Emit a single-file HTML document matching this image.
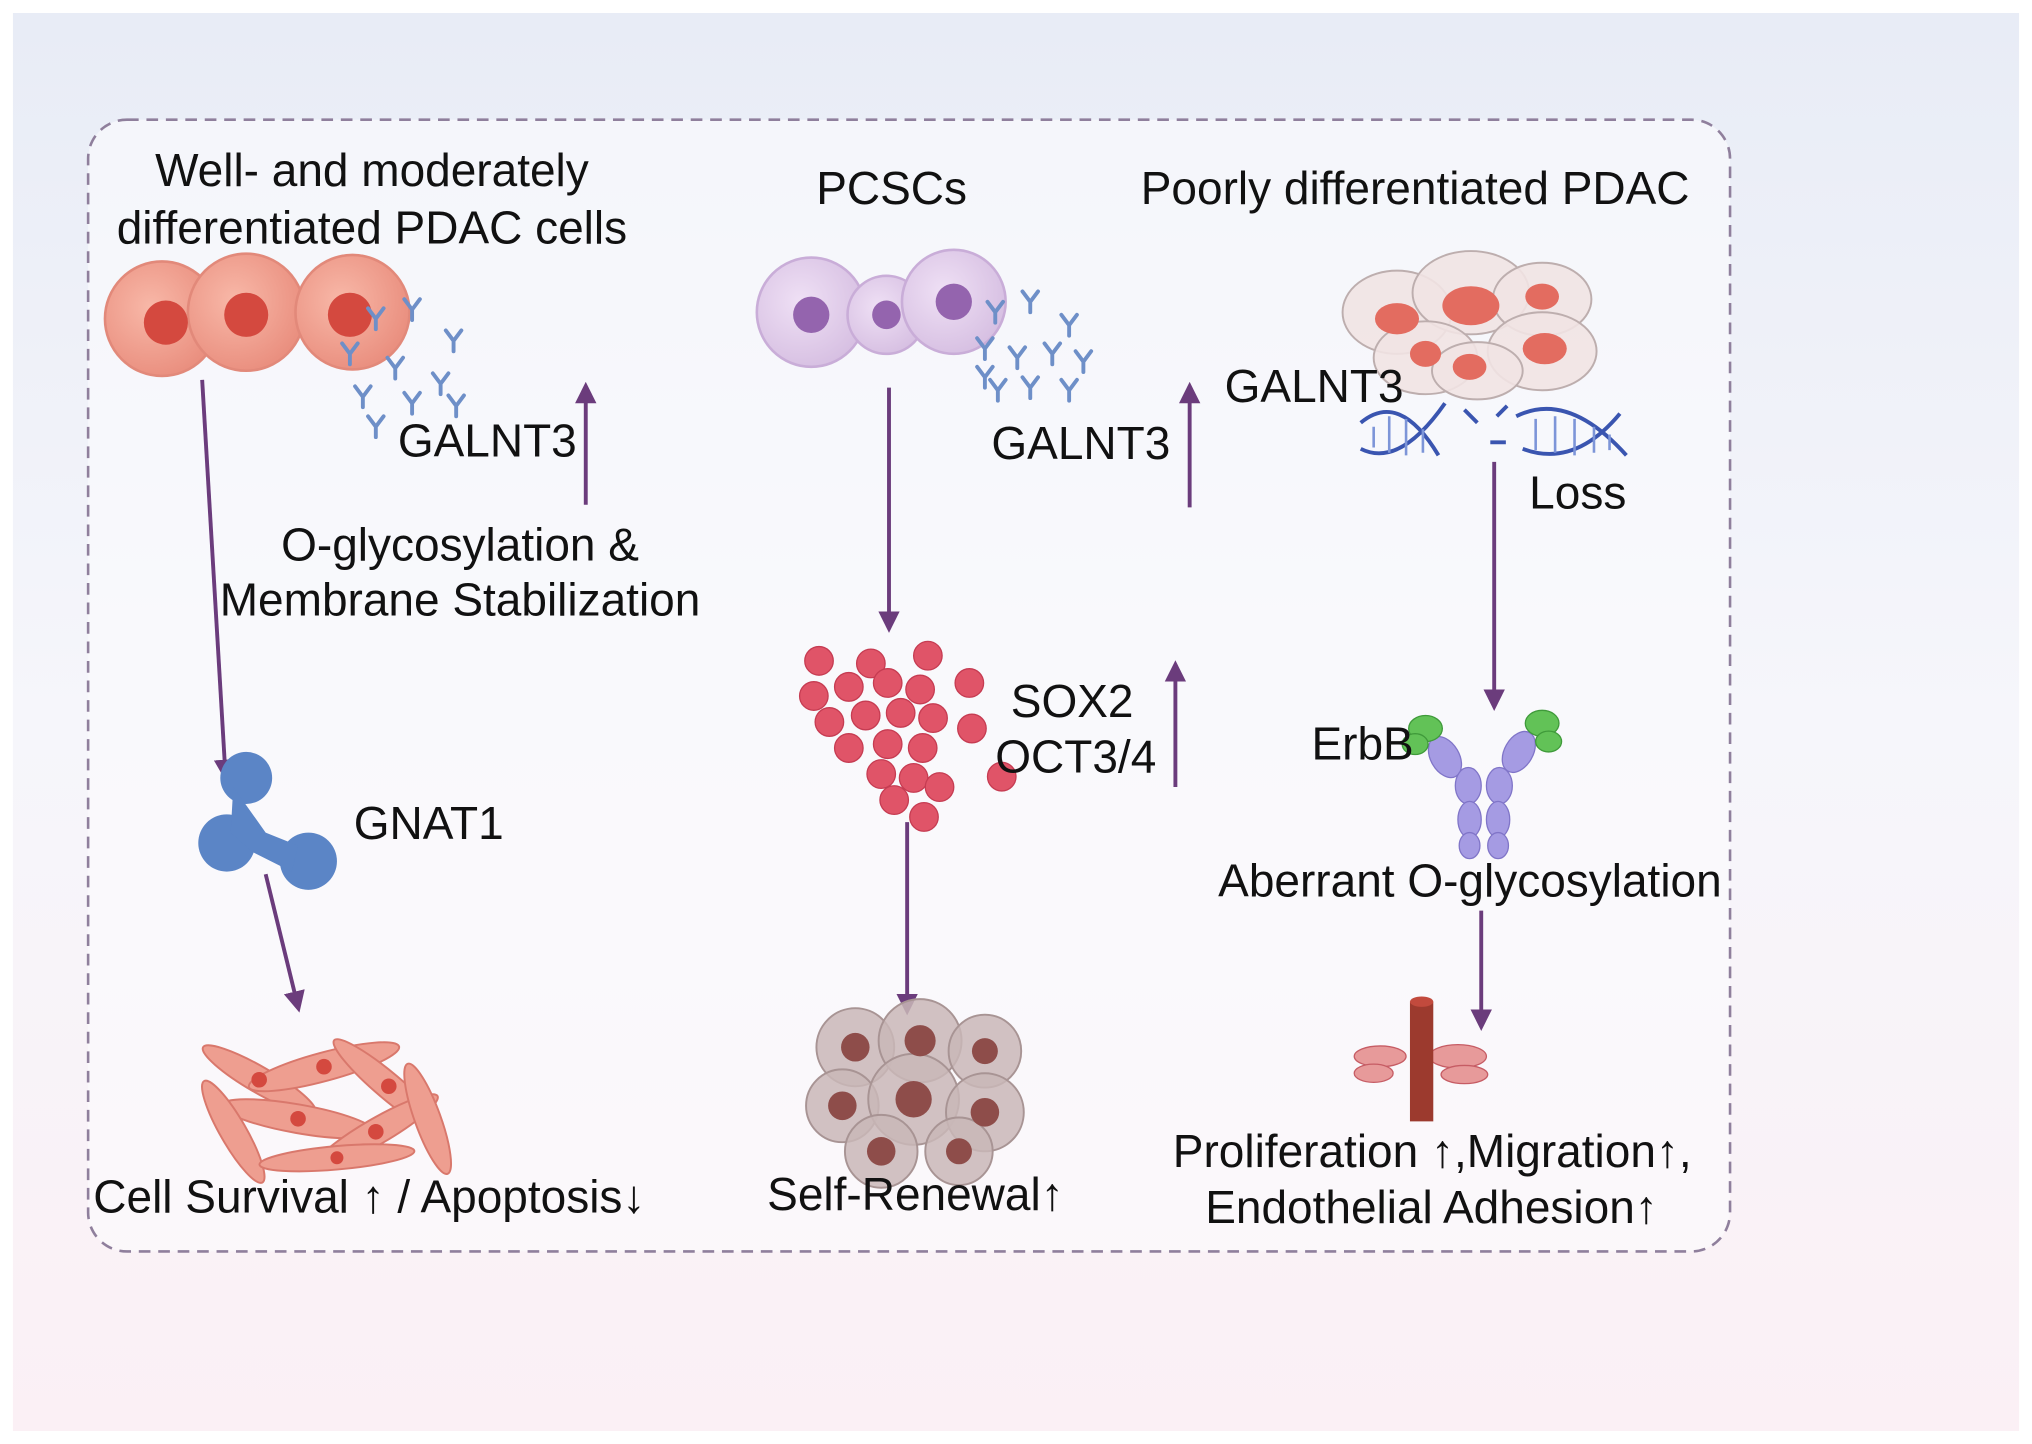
<!DOCTYPE html>
<html><head><meta charset="utf-8"><style>
html,body{margin:0;padding:0;background:#fff;}
svg{display:block;}
text{font-family:"Liberation Sans",Arial,sans-serif;fill:#111;font-size:35.5px;}
</style></head><body>
<svg width="2032" height="1444" viewBox="0 0 1568 1110" preserveAspectRatio="none" xmlns="http://www.w3.org/2000/svg">
<defs>
<linearGradient id="bg" x1="0" y1="0" x2="0" y2="1">
<stop offset="0" stop-color="#e8ecf6"/><stop offset="0.5" stop-color="#f6f6fb"/><stop offset="1" stop-color="#fbf0f5"/>
</linearGradient>
<marker id="ah" markerWidth="5.5" markerHeight="5.5" refX="4" refY="2.75" orient="auto" markerUnits="strokeWidth">
<path d="M0,0 L5.5,2.75 L0,5.5 Z" fill="#6b3c7c"/></marker>
<radialGradient id="pc" cx="0.4" cy="0.4" r="0.7"><stop offset="0" stop-color="#f8b8a8"/><stop offset="1" stop-color="#e88a7a"/></radialGradient>
<radialGradient id="vc" cx="0.4" cy="0.4" r="0.7"><stop offset="0" stop-color="#efe0f5"/><stop offset="1" stop-color="#d4bce0"/></radialGradient>
<g id="ab" stroke="#6e8fc8" stroke-width="3" fill="none" stroke-linecap="round"><path d="M0,8 L0,0 M0,0 L-6,-8 M0,0 L6,-8"/></g>
</defs>
<rect width="1568" height="1110" fill="#fff"/>
<rect x="10" y="10" width="1548" height="1090" fill="url(#bg)"/>
<rect x="68" y="92" width="1267" height="870" rx="30" fill="#fbfbfd" fill-opacity="0.6" stroke="#8f7f9c" stroke-width="2" stroke-dasharray="9,6"/>

<text x="287" y="143" text-anchor="middle">Well- and moderately</text>
<text x="287" y="187" text-anchor="middle">differentiated PDAC cells</text>
<text x="688" y="157" text-anchor="middle">PCSCs</text>
<text x="1092" y="157" text-anchor="middle">Poorly differentiated PDAC</text>

<g stroke="#e2897a" stroke-width="2">
<circle cx="125" cy="245" r="44" fill="url(#pc)"/>
<circle cx="190" cy="240" r="45" fill="url(#pc)"/>
<circle cx="272" cy="240" r="44" fill="url(#pc)"/>
</g>
<circle cx="128" cy="248" r="17" fill="#d4493f"/>
<circle cx="190" cy="242" r="17" fill="#d4493f"/>
<circle cx="270" cy="242" r="17" fill="#d4493f"/>
<g>
<use href="#ab" x="290" y="245"/><use href="#ab" x="318" y="238"/><use href="#ab" x="350" y="262"/>
<use href="#ab" x="270" y="272"/><use href="#ab" x="305" y="283"/><use href="#ab" x="340" y="295"/>
<use href="#ab" x="280" y="305"/><use href="#ab" x="318" y="310"/><use href="#ab" x="352" y="312"/>
<use href="#ab" x="290" y="328"/>
</g>
<text x="307" y="351">GALNT3</text>
<line x1="452" y1="388" x2="452" y2="298" stroke="#6b3c7c" stroke-width="3" marker-end="url(#ah)"/>
<text x="355" y="431" text-anchor="middle">O-glycosylation &amp;</text>
<text x="355" y="473" text-anchor="middle">Membrane Stabilization</text>
<line x1="156" y1="292" x2="174" y2="596" stroke="#6b3c7c" stroke-width="3" marker-end="url(#ah)"/>

<g fill="#5b85c6">
<circle cx="190" cy="598" r="20"/><circle cx="175" cy="648" r="22"/><circle cx="238" cy="662" r="22"/>
<path d="M180,605 L205,640 L230,650 L225,670 L195,655 L178,640Z"/>
</g>
<text x="273" y="645">GNAT1</text>
<line x1="205" y1="672" x2="230" y2="774" stroke="#6b3c7c" stroke-width="3" marker-end="url(#ah)"/>

<g fill="#ee9e90" stroke="#d9786c" stroke-width="1.5">
<ellipse cx="200" cy="830" rx="50" ry="10" transform="rotate(30 200 830)"/>
<ellipse cx="250" cy="820" rx="60" ry="11" transform="rotate(-15 250 820)"/>
<ellipse cx="300" cy="835" rx="55" ry="10" transform="rotate(40 300 835)"/>
<ellipse cx="230" cy="860" rx="60" ry="11" transform="rotate(10 230 860)"/>
<ellipse cx="290" cy="870" rx="55" ry="10" transform="rotate(-30 290 870)"/>
<ellipse cx="180" cy="870" rx="45" ry="10" transform="rotate(60 180 870)"/>
<ellipse cx="330" cy="860" rx="45" ry="10" transform="rotate(70 330 860)"/>
<ellipse cx="260" cy="890" rx="60" ry="9" transform="rotate(-5 260 890)"/>
</g>
<g fill="#d4493f"><circle cx="200" cy="830" r="6"/><circle cx="250" cy="820" r="6"/><circle cx="300" cy="835" r="6"/><circle cx="230" cy="860" r="6"/><circle cx="290" cy="870" r="6"/><circle cx="260" cy="890" r="5"/></g>
<text x="72" y="932">Cell Survival ↑ / Apoptosis↓</text>

<g stroke="#c9add8" stroke-width="2">
<circle cx="626" cy="240" r="42" fill="url(#vc)"/>
<circle cx="684" cy="242" r="30" fill="url(#vc)"/>
<circle cx="736" cy="232" r="40" fill="url(#vc)"/>
</g>
<g fill="#9464ae"><circle cx="626" cy="242" r="14"/><circle cx="684" cy="242" r="11"/><circle cx="736" cy="232" r="14"/></g>
<g>
<use href="#ab" x="768" y="240"/><use href="#ab" x="795" y="232"/><use href="#ab" x="825" y="250"/>
<use href="#ab" x="760" y="268"/><use href="#ab" x="785" y="275"/><use href="#ab" x="812" y="272"/><use href="#ab" x="836" y="278"/>
<use href="#ab" x="770" y="300"/><use href="#ab" x="795" y="298"/><use href="#ab" x="825" y="300"/><use href="#ab" x="760" y="290"/>
</g>
<text x="765" y="353">GALNT3</text>
<line x1="918" y1="390" x2="918" y2="298" stroke="#6b3c7c" stroke-width="3" marker-end="url(#ah)"/>
<line x1="686" y1="298" x2="686" y2="482" stroke="#6b3c7c" stroke-width="3" marker-end="url(#ah)"/>

<g fill="#e05468" stroke="#c63c52" stroke-width="1">
<circle cx="632" cy="508" r="11"/><circle cx="672" cy="510" r="11"/><circle cx="716" cy="504" r="11"/>
<circle cx="628" cy="535" r="11"/><circle cx="655" cy="528" r="11"/><circle cx="685" cy="525" r="11"/><circle cx="710" cy="530" r="11"/><circle cx="748" cy="525" r="11"/>
<circle cx="640" cy="555" r="11"/><circle cx="668" cy="550" r="11"/><circle cx="695" cy="548" r="11"/><circle cx="720" cy="552" r="11"/><circle cx="750" cy="560" r="11"/>
<circle cx="655" cy="575" r="11"/><circle cx="685" cy="572" r="11"/><circle cx="712" cy="575" r="11"/>
<circle cx="680" cy="595" r="11"/><circle cx="705" cy="598" r="11"/><circle cx="725" cy="605" r="11"/><circle cx="690" cy="615" r="11"/><circle cx="713" cy="628" r="11"/><circle cx="773" cy="597" r="11"/>
</g>
<text x="780" y="551">SOX2</text>
<text x="768" y="594">OCT3/4</text>
<line x1="907" y1="605" x2="907" y2="512" stroke="#6b3c7c" stroke-width="3" marker-end="url(#ah)"/>
<line x1="700" y1="632" x2="700" y2="776" stroke="#6b3c7c" stroke-width="3" marker-end="url(#ah)"/>

<g fill="#c9b7b7" stroke="#a89494" stroke-width="1.5" fill-opacity="0.85">
<circle cx="660" cy="805" r="30"/><circle cx="710" cy="800" r="32"/><circle cx="760" cy="808" r="28"/>
<circle cx="650" cy="850" r="28"/><circle cx="705" cy="845" r="35"/><circle cx="760" cy="855" r="30"/>
<circle cx="680" cy="885" r="28"/><circle cx="740" cy="885" r="26"/>
</g>
<g fill="#8e4d4a"><circle cx="660" cy="805" r="11"/><circle cx="710" cy="800" r="12"/><circle cx="760" cy="808" r="10"/><circle cx="650" cy="850" r="11"/><circle cx="705" cy="845" r="14"/><circle cx="760" cy="855" r="11"/><circle cx="680" cy="885" r="11"/><circle cx="740" cy="885" r="10"/></g>
<text x="592" y="930">Self-Renewal↑</text>

<g fill="#f1e3e3" stroke="#bdaeae" stroke-width="1.5" fill-opacity="0.9">
<ellipse cx="1078" cy="240" rx="42" ry="32"/><ellipse cx="1135" cy="225" rx="45" ry="32"/><ellipse cx="1190" cy="230" rx="38" ry="28"/>
<ellipse cx="1100" cy="275" rx="40" ry="28"/><ellipse cx="1190" cy="270" rx="42" ry="30"/><ellipse cx="1140" cy="285" rx="35" ry="22"/>
</g>
<g fill="#e36c60"><ellipse cx="1078" cy="245" rx="17" ry="12"/><ellipse cx="1135" cy="235" rx="22" ry="15"/><ellipse cx="1190" cy="228" rx="13" ry="10"/><ellipse cx="1100" cy="272" rx="12" ry="10"/><ellipse cx="1192" cy="268" rx="17" ry="12"/><ellipse cx="1134" cy="282" rx="13" ry="10"/></g>
<text x="945" y="309">GALNT3</text>
<g stroke="#3a55b0" stroke-width="3" fill="none">
<path d="M1050,325 Q1080,300 1110,350 M1050,345 Q1080,360 1115,310"/>
<path d="M1170,320 Q1210,300 1255,350 M1175,345 Q1215,360 1250,318"/>
<path d="M1130,315 l10,10 M1155,320 l8,-8 M1150,340 l12,0"/>
</g>
<g stroke="#7d95d8" stroke-width="2"><path d="M1060,328v16 M1072,320v28 M1085,322v28 M1098,330v18 M1185,322v24 M1200,320v28 M1215,322v28 M1230,328v20 M1242,334v12"/></g>
<text x="1180" y="391">Loss</text>
<line x1="1153" y1="355" x2="1153" y2="542" stroke="#6b3c7c" stroke-width="3" marker-end="url(#ah)"/>

<g fill="#a59be3" stroke="#8075c8" stroke-width="1">
<ellipse cx="1115" cy="582" rx="11" ry="17" transform="rotate(-30 1115 582)"/>
<ellipse cx="1172" cy="578" rx="11" ry="17" transform="rotate(30 1172 578)"/>
<ellipse cx="1133" cy="604" rx="10" ry="14"/><ellipse cx="1157" cy="604" rx="10" ry="14"/>
<ellipse cx="1134" cy="630" rx="9" ry="14"/><ellipse cx="1156" cy="630" rx="9" ry="14"/>
<ellipse cx="1134" cy="650" rx="8" ry="10"/><ellipse cx="1156" cy="650" rx="8" ry="10"/>
</g>
<g fill="#62c257" stroke="#3f9a3a"><ellipse cx="1100" cy="560" rx="13" ry="10"/><ellipse cx="1092" cy="572" rx="10" ry="8"/><ellipse cx="1190" cy="556" rx="13" ry="10"/><ellipse cx="1195" cy="570" rx="10" ry="8"/></g>
<text x="1012" y="584">ErbB</text>
<text x="940" y="689">Aberrant O-glycosylation</text>
<line x1="1143" y1="700" x2="1143" y2="788" stroke="#6b3c7c" stroke-width="3" marker-end="url(#ah)"/>
<g fill="#e79a9a" stroke="#c65c64" stroke-width="1"><ellipse cx="1065" cy="812" rx="20" ry="8"/><ellipse cx="1125" cy="812" rx="22" ry="9"/><ellipse cx="1060" cy="825" rx="15" ry="7"/><ellipse cx="1130" cy="826" rx="18" ry="7"/></g>
<rect x="1088" y="770" width="18" height="92" fill="#9c3a2e"/>
<ellipse cx="1097" cy="770" rx="9" ry="4" fill="#c24a3d"/>
<text x="905" y="897">Proliferation ↑,Migration↑,</text>
<text x="930" y="940">Endothelial Adhesion↑</text>
</svg>
</body></html>
